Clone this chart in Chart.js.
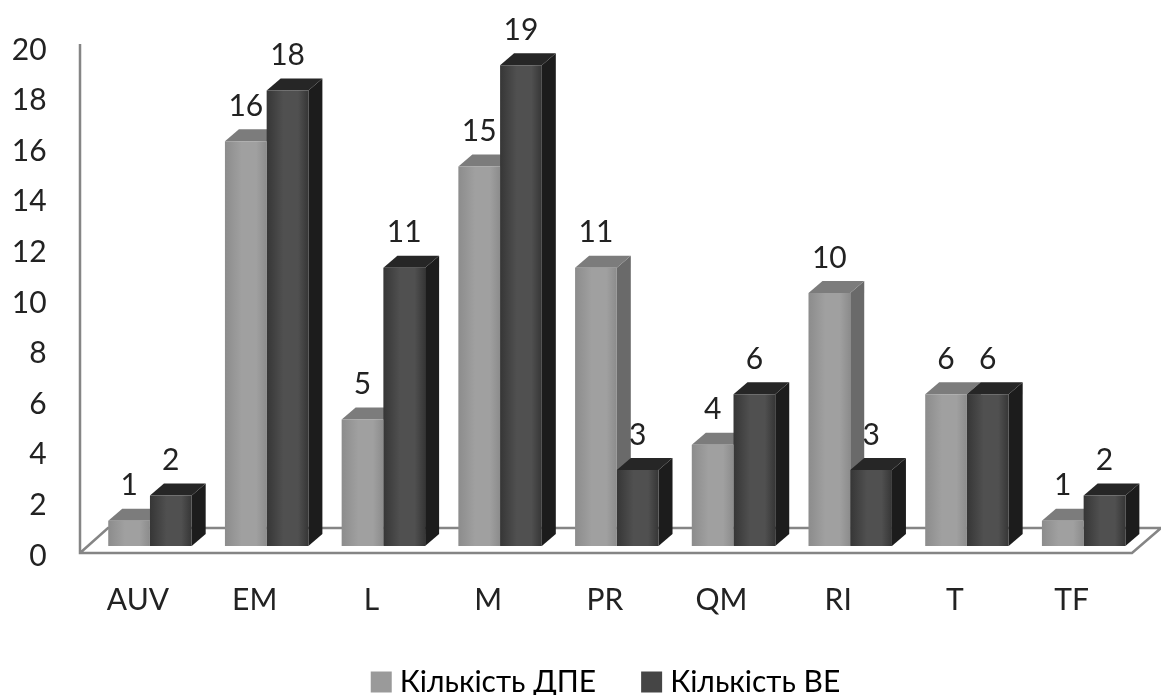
<!DOCTYPE html>
<html>
<head>
<meta charset="utf-8">
<style>
  html, body { margin: 0; padding: 0; background: #fff; }
  canvas { display: block; }
</style>
<script src="https://cdn.jsdelivr.net/npm/chart.js@4"></script>
</head>
<body>
<canvas id="chart" width="1161" height="695"></canvas>
<script>
const categories = ['AUV', 'EM', 'L', 'M', 'PR', 'QM', 'RI', 'T', 'TF'];
const dpeLabel = 'Кількість ДПЕ';
const beLabel = 'Кількість ВЕ';
const dpeValues = [1, 16, 5, 15, 11, 4, 10, 6, 1];
const beValues = [2, 18, 11, 19, 3, 6, 3, 6, 2];

const FONT = 'Lato, "Open Sans", sans-serif';
const TEXT = '#222222';
const DEPTH_X = 14;
const DEPTH_Y = 12;

// Per-series shades: front gradient stops, top face, side face.
const shades = [
  { edge: '#8c8c8c', mid: '#a0a0a0', top: '#7c7c7c', side: '#6a6a6a', key: '#9a9a9a' },
  { edge: '#363636', mid: '#505050', top: '#262626', side: '#1c1c1c', key: '#454545' }
];

function frontFill(ctx) {
  if (ctx.type !== 'data') return shades[ctx.datasetIndex].mid;
  const chart = ctx.chart;
  const x = chart.scales.x;
  const band = x.getPixelForValue(1) - x.getPixelForValue(0);
  const w = band * 0.715 / 2;
  const c = x.getPixelForValue(ctx.dataIndex);
  const left = ctx.datasetIndex === 0 ? c - w : c;
  const s = shades[ctx.datasetIndex];
  const g = chart.ctx.createLinearGradient(left, 0, left + w, 0);
  g.addColorStop(0, s.edge);
  g.addColorStop(0.4, s.mid);
  g.addColorStop(0.75, s.mid);
  g.addColorStop(1, s.edge);
  return g;
}

function polygon(ctx, pts, fill) {
  ctx.beginPath();
  pts.forEach((p, i) => (i ? ctx.lineTo(p[0], p[1]) : ctx.moveTo(p[0], p[1])));
  ctx.closePath();
  ctx.fillStyle = fill;
  ctx.fill();
}

// Wall edge, floor plate and the extruded faces of each bar.
const depthPlugin = {
  id: 'depth',
  afterLayout(chart) {
    // The legend sits slightly right of the page centre.
    chart.legend.left += 38;
    chart.legend.right += 38;
  },
  beforeDatasetsDraw(chart) {
    const ctx = chart.ctx;
    const base = chart.scales.y.getPixelForValue(0);
    const floorFront = base + 7;
    const floorBack = base - 18;
    ctx.save();
    ctx.strokeStyle = '#858585';
    ctx.lineWidth = 2.5;
    ctx.beginPath();
    ctx.moveTo(80, 44);
    ctx.lineTo(80, floorFront);
    ctx.lineTo(1132, floorFront);
    ctx.lineTo(1161, floorBack);
    ctx.moveTo(80, floorFront);
    ctx.lineTo(108, floorBack);
    ctx.lineTo(1161, floorBack);
    ctx.stroke();

    chart.data.datasets.forEach((ds, di) => {
      chart.getDatasetMeta(di).data.forEach((bar) => {
        const half = bar.width / 2;
        const l = bar.x - half;
        const r = bar.x + half;
        const t = bar.y;
        const b = bar.base;
        polygon(ctx, [[r, t], [r + DEPTH_X, t - DEPTH_Y], [r + DEPTH_X, b - DEPTH_Y], [r, b]], shades[di].side);
        polygon(ctx, [[l, t], [l + DEPTH_X, t - DEPTH_Y], [r + DEPTH_X, t - DEPTH_Y], [r, t]], shades[di].top);
      });
    });
    ctx.restore();
  },
  afterDatasetsDraw(chart) {
    const ctx = chart.ctx;
    ctx.save();
    ctx.font = '30px ' + FONT;
    ctx.fillStyle = TEXT;
    ctx.textAlign = 'center';
    ctx.textBaseline = 'middle';
    chart.data.datasets.forEach((ds, di) => {
      chart.getDatasetMeta(di).data.forEach((bar, i) => {
        ctx.fillText(String(ds.data[i]), bar.x, bar.y - 35);
      });
    });
    ctx.restore();
  }
};

new Chart(document.getElementById('chart'), {
  type: 'bar',
  data: {
    labels: categories,
    datasets: [
      { label: dpeLabel, data: dpeValues, backgroundColor: frontFill },
      { label: beLabel, data: beValues, backgroundColor: frontFill }
    ]
  },
  options: {
    responsive: false,
    animation: false,
    layout: { padding: { top: 40, left: 0, right: 19, bottom: -12 } },
    datasets: { bar: { categoryPercentage: 0.715, barPercentage: 1 } },
    scales: {
      x: {
        grid: { display: false, drawTicks: false },
        border: { display: false },
        ticks: { color: TEXT, font: { family: FONT, size: 30 }, padding: 36, labelOffset: -12, maxRotation: 0 },
        afterFit(scale) { scale.height = 69; }
      },
      y: {
        min: 0,
        max: 20,
        grid: { display: false, drawTicks: false },
        border: { display: false },
        ticks: { stepSize: 2, color: TEXT, font: { family: FONT, size: 30 }, padding: 45, labelOffset: 10 },
        afterFit(scale) {
          scale.width = 91.6;
          scale.paddingTop = 0;
          scale.paddingBottom = 0;
        }
      }
    },
    plugins: {
      tooltip: { enabled: false },
      legend: {
        position: 'bottom',
        labels: {
          color: TEXT,
          font: { family: FONT, size: 30 },
          padding: 52,
          boxWidth: 7,
          boxHeight: 7,
          generateLabels(chart) {
            return chart.data.datasets.map((ds, i) => ({
              text: ds.label,
              datasetIndex: i,
              fillStyle: shades[i].key,
              strokeStyle: shades[i].key,
              lineWidth: 14
            }));
          }
        }
      }
    }
  },
  plugins: [depthPlugin]
});
</script>
</body>
</html>
